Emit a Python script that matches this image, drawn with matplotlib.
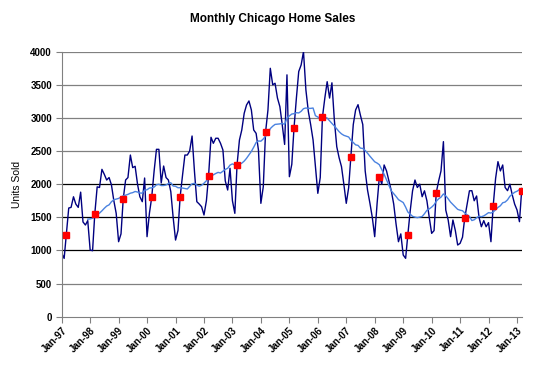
import numpy as np
import pandas as pd
import matplotlib
matplotlib.use('Agg')
import matplotlib.pyplot as plt
import matplotlib.dates as mdates

plt.rcParams['font.family'] = ['Liberation Sans', 'DejaVu Sans']

# monthly closed sales, Jan..Dec of each year
s1997 = [960, 880, 1233, 1640, 1650, 1810, 1700, 1650, 1880, 1430, 1384, 1450]
s1998 = [1007, 996, 1545, 1960, 1950, 2224, 2150, 2063, 2100, 1990, 1750, 1560]
s1999 = [1132, 1250, 1772, 2063, 2100, 2440, 2250, 2270, 2000, 1811, 1736, 2093]
s2000 = [1208, 1565, 1802, 2200, 2526, 2526, 2018, 2274, 2100, 2063, 1887, 1500]
s2001 = [1157, 1300, 1811, 2139, 2440, 2440, 2500, 2727, 2189, 1736, 1700, 1660]
s2002 = [1535, 1750, 2128, 2708, 2617, 2693, 2693, 2617, 2516, 2050, 1912, 2240]
s2003 = [1750, 1560, 2290, 2667, 2818, 3070, 3195, 3256, 3120, 2818, 2767, 2516]
s2004 = [1711, 1962, 2783, 3120, 3749, 3500, 3523, 3300, 3170, 2900, 2600, 3650]
s2005 = [2113, 2300, 2843, 3300, 3700, 3800, 4000, 3422, 3100, 2900, 2667, 2264]
s2006 = [1862, 2100, 3009, 3300, 3547, 3300, 3530, 2969, 2566, 2400, 2264, 2000]
s2007 = [1711, 1950, 2415, 2900, 3120, 3200, 3044, 2900, 2200, 1912, 1711, 1500]
s2008 = [1208, 1711, 2113, 2000, 2290, 2200, 2050, 1900, 1700, 1400, 1132, 1250]
s2009 = [931, 881, 1233, 1600, 1900, 2063, 1950, 2000, 1811, 1900, 1750, 1500]
s2010 = [1258, 1300, 1872, 2050, 2200, 2642, 1610, 1460, 1208, 1460, 1300, 1082]
s2011 = [1107, 1200, 1485, 1700, 1900, 1902, 1750, 1822, 1500, 1358, 1450, 1358]
s2012 = [1420, 1132, 1676, 2089, 2340, 2200, 2290, 1950, 1902, 2000, 1837, 1700]
s2013 = [1610, 1434, 1902]

sales = (s1997 + s1998 + s1999 + s2000 + s2001 + s2002 + s2003 + s2004 +
         s2005 + s2006 + s2007 + s2008 + s2009 + s2010 + s2011 + s2012 + s2013)

months = pd.date_range('1997-01-01', periods=len(sales), freq='MS')
df = pd.DataFrame({'sales': sales}, index=months)
df['ma12'] = df['sales'].rolling(12).mean()   # 12 month moving average
march = df[df.index.month == 3]

fig = plt.figure(figsize=(5.4, 3.69), dpi=100)
ax = fig.add_axes([0.1143, 0.1417, 0.8517, 0.7183])

for yv in [500, 2500, 3000, 3500, 4000]:
    ax.axhline(yv, color='#808080', lw=0.9, zorder=0)
for yv in [1000, 1500, 2000]:
    ax.axhline(yv, color='black', lw=0.9, zorder=0)

ax.plot(df.index, df['sales'], color='#000080', lw=1.0, zorder=2)
ax.plot(df.index, df['ma12'], color='#4a82e0', lw=1.0, zorder=3)
ax.plot(march.index, march['sales'], ls='none', marker='s', ms=5,
        color='#ff0000', zorder=4)

ax.set_ylim(0, 4000)
ax.set_yticks(np.arange(0, 4001, 500))
ax.set_xlim(months[0], months[-1])
years = pd.date_range('1997-01-01', '2013-01-01', freq='YS')
ax.set_xticks(years)
ax.xaxis.set_major_formatter(mdates.DateFormatter('%b-%y'))

for lab in ax.get_xticklabels():
    lab.set_rotation(45)
    lab.set_ha('right')
    lab.set_rotation_mode('anchor')
    lab.set_fontweight('bold')
    lab.set_fontsize(7)
for lab in ax.get_yticklabels():
    lab.set_fontweight('bold')
    lab.set_fontsize(7)

ax.tick_params(axis='both', length=4, width=0.8, color='#808080', pad=3)
ax.tick_params(axis='x', pad=2)
for side in ['top', 'right']:
    ax.spines[side].set_visible(False)
ax.spines['left'].set_color('#808080')
ax.spines['bottom'].set_color('#808080')

ax.set_ylabel('Units Sold', fontsize=7.5, labelpad=6)
fig.text(0.505, 0.94, 'Monthly Chicago Home Sales', ha='center',
         fontsize=8.5, fontweight='bold')

fig.savefig('out.png', dpi=100)
